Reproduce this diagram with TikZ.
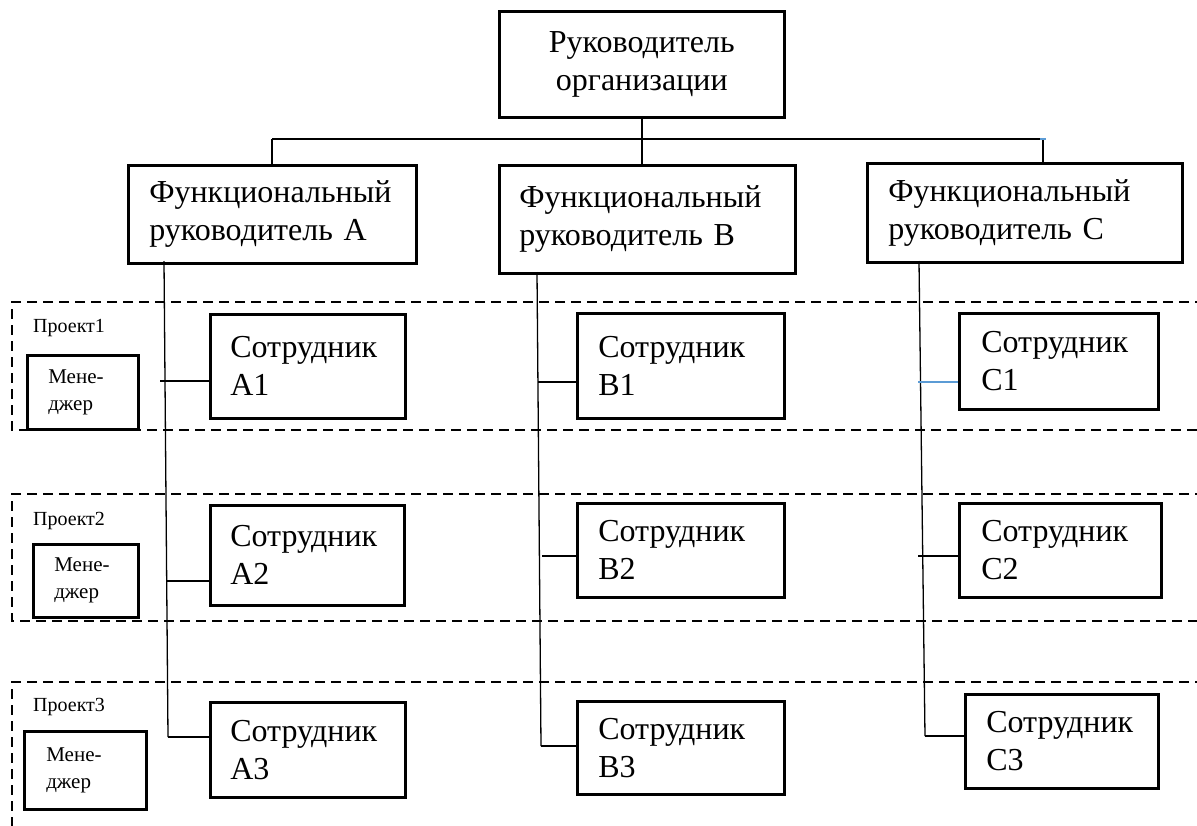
\documentclass[tikz,border=0pt]{standalone}
\usepackage{fontspec}
\setmainfont{Liberation Serif}
\definecolor{linkblue}{HTML}{5B9BD5}
\begin{document}
\begin{tikzpicture}[x=1pt,y=-1pt,
  box/.style={draw, line width=2.6pt, rectangle, anchor=north west, inner ysep=0pt, align=left},
  dims/.style n args={4}{minimum width=#1pt, minimum height=#2pt, inner xsep=#3pt, text width=#4pt},
  big/.style={font=\fontsize{32}{38}\selectfont},
  small/.style={font=\fontsize{21}{27}\selectfont},
  tag/.style={anchor=base west, inner sep=0pt, font=\fontsize{20}{24}\selectfont},
  band/.style={line width=2.6pt, dash pattern=on 10pt off 6pt},
  spine/.style={line width=1.3pt},
  branch/.style={line width=2pt},
]
\useasboundingbox (0,0) rectangle (1197,825);

% project bands (open to the right)
\draw[band] (1205,302) -- (12,302) -- (12,430) -- (1205,430);
\draw[band] (1205,494) -- (12,494) -- (12,621) -- (1205,621);
\draw[band] (1205,682) -- (12,682) -- (12,830);

% head and functional managers
\node[box,big,dims={285}{106}{10}{265},align=center] (CEO) at (498,10) {Руководитель\\организации};
\node[box,big,dims={288}{98}{21}{246}] (FA) at (127,164) {Функциональный\\руководитель~А};
\node[box,big,dims={296}{108}{20}{256}] (FB) at (498,164) {Функциональный\\руководитель~В};
\node[box,big,dims={315}{99}{21}{273}] (FC) at (866,162) {Функциональный\\руководитель~С};

% staff
\node[box,big,dims={195}{104}{20}{155}] (A1) at (209,313) {Сотрудник\\А1};
\node[box,big,dims={194}{100}{20}{154}] (A2) at (209,504) {Сотрудник\\А2};
\node[box,big,dims={195}{95}{20}{155}]  (A3) at (209,701) {Сотрудник\\А3};
\node[box,big,dims={207}{105}{21}{165}] (B1) at (576,312) {Сотрудник\\В1};
\node[box,big,dims={207}{94}{21}{165}]  (B2) at (576,502) {Сотрудник\\В2};
\node[box,big,dims={207}{93}{21}{165}]  (B3) at (576,700) {Сотрудник\\В3};
\node[box,big,dims={199}{96}{22}{155}]  (C1) at (958,312) {Сотрудник\\С1};
\node[box,big,dims={202}{94}{22}{158}]  (C2) at (958,502) {Сотрудник\\С2};
\node[box,big,dims={193}{94}{21}{151}]  (C3) at (964,693) {Сотрудник\\С3};

% project managers
\node[box,small,dims={111}{74}{21}{69}] (M1) at (26,354) {Мене-\\джер};
\node[box,small,dims={105}{73}{21}{63}] (M2) at (32,543) {Мене-\\джер};
\node[box,small,dims={122}{78}{22}{78}] (M3) at (23,730) {Мене-\\джер};

% project labels
\node[tag] (P1) at (33,332) {Проект1};
\node[tag] (P2) at (33,525) {Проект2};
\node[tag] (P3) at (33,711) {Проект3};

% top-level tree
\coordinate (busL) at (270,139);
\coordinate (busR) at (1043,139);
\draw[branch] (CEO.south) -- (CEO.south |- FB.north);
\draw[branch] (busL -| FA.north) -- (busR);
\draw[branch] (busL -| FA.north) -- (FA.north);
\draw[branch] (busR) -- (busR |- FC.north);
\draw[linkblue, line width=2pt] ([xshift=-3pt]busR) -- ([xshift=3pt]busR);

% column A
\coordinate (aTop) at (164,261);
\coordinate (aBot) at (168,737);
\draw[spine] (aTop) -- (aBot);
\draw[branch] (aBot) -- (aBot -| A3.west);
\coordinate (a1) at (160,381);
\draw[branch] (a1) -- (a1 -| A1.west);
\coordinate (a2) at (167,581);
\draw[spine] (a2) -- (a2 -| A2.west);

% column B
\coordinate (bTop) at (537,272);
\coordinate (bBot) at (541,746);
\draw[spine] (bTop) -- (bBot);
\draw[branch] (bBot) -- (bBot -| B3.west);
\coordinate (b1) at (538,382);
\draw[branch] (b1) -- (b1 -| B1.west);
\coordinate (b2) at (542,556);
\draw[branch] (b2) -- (b2 -| B2.west);

% column C
\coordinate (cTop) at (919,261);
\coordinate (cBot) at (925,736);
\draw[spine] (cTop) -- (cBot);
\draw[branch] (cBot) -- (cBot -| C3.west);
\coordinate (c1) at (918,382);
\draw[linkblue, line width=2pt] (c1) -- (c1 -| C1.west);
\coordinate (c2) at (918,556);
\draw[branch] (c2) -- (c2 -| C2.west);
\end{tikzpicture}
\end{document}
